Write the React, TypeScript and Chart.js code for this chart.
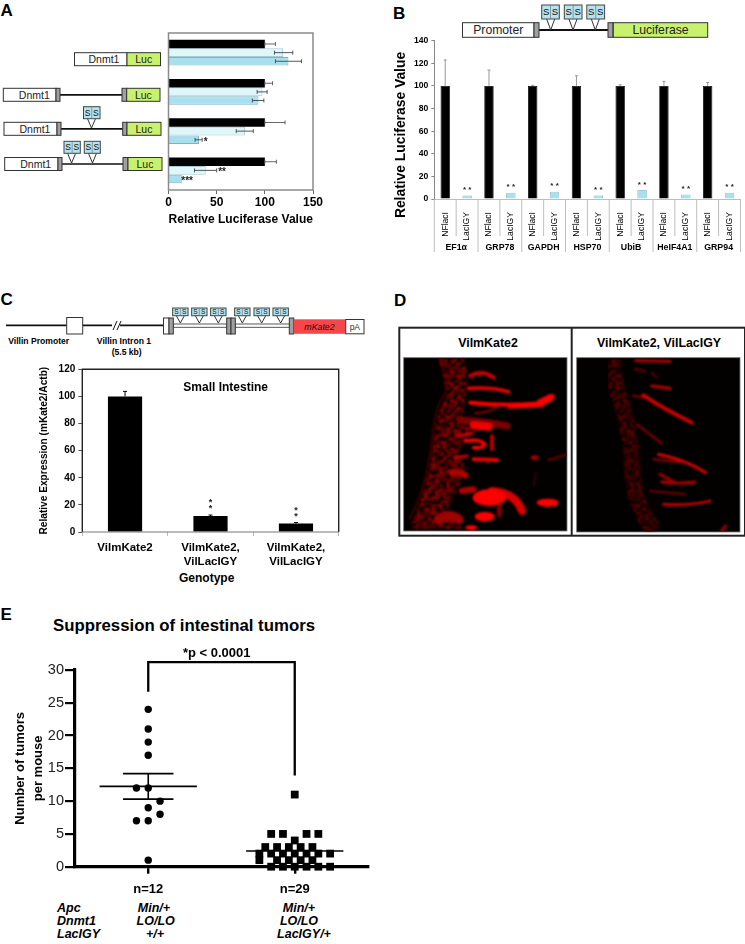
import React, { useEffect, useRef } from "react";
import { Chart, registerables } from "chart.js";
Chart.register(...registerables);

const FONT = "'Liberation Sans', Arial, sans-serif";
const BLACK = "#000000";
const LACI = "#dff6fb";
const LACI_EDGE = "#a9cbd4";
const GY = "#a8e0ef";
const GY_EDGE = "#7fb3c2";
const GREEN = "#c8f26e";

// Panel A
const aConstructs = ["WT", "Intron", "1 site", "2 sites"];
const aNF = [100, 100, 100, 100];
const aNFHigh = [111, 108, 121, 112];
const aLacI = [119, 97.6, 79.3, 38.6];
const aLacILow = [110, 92, 70.3, 27];
const aLacIHigh = [129, 102.4, 88, 50];
const aGY = [124.5, 93.4, 31.7, 13.8];
const aGYLow = [111, 87, 27.6, 13.8];
const aGYHigh = [138, 99, 35, 13.8];
const aXTicks = [0, 50, 100, 150];

// Panel B
const bGroups = ["EF1α", "GRP78", "GAPDH", "HSP70", "UbiB", "HeIF4A1", "GRP94"];
const bSeries = ["NFlacI", "LacIGY"];
const bNF = [100, 100, 100, 100, 100, 100, 100];
const bNFHigh = [123, 114, 100.5, 109, 101, 104, 103];
const bGY = [3, 5.5, 6.5, 3, 8, 4, 5.5];

// Panel C
const cCategories = ["VilmKate2", ["VilmKate2,", "VilLacIGY"], ["VilmKate2,", "VilLacIGY"]];
const cValues = [100, 11.8, 6.3];
const cHigh = [103.7, 12.5, 7];
const cStars = [false, true, true];

// Panel E
const eCircleY = [24, 21, 19, 17, 12, 12, 10, 9, 8, 7, 7, 1];
const eCircleSlot = [0, 0, 0, 0, -1, 0, 1, 0, 1, -1, 0, 0];
const eSquareY = [11, 5, 5, 5, 5, 4, 3, 3, 3, 3, 3, 2, 2, 2, 2, 2, 2, 2, 1, 1, 1, 1, 1, 0, 0, 0, 0, 0, 0];
const eSquareSlot = [0, -2, -1, 1, 2, 0, -2.5, -1.5, -0.5, 0.5, 1.5, -3, -2, -1, 0, 1, 2, 3, -3, -1.5, -0.5, 0.5, 1.5, -2, -1, 0, 1, 2, 3];
const eMean = [12.25, 2.4];
const eSemLow = [10.3, null];
const eSemHigh = [14.2, null];
const eLabels = ["n=12", "n=29"];
const eYTicks = [0, 5, 10, 15, 20, 25, 30];

type Rect = { x: number; y: number; w: number; h: number };
type Plot = { l: number; t: number; r: number; b: number };

const rA: Rect = { x: 130, y: 25, w: 235, h: 202 };
const pA: Plot = { l: 168.5, t: 33, r: 313, b: 190 };
const rB: Rect = { x: 392, y: 30, w: 353, h: 228 };
const pB: Plot = { l: 434.3, t: 40.7, r: 741, b: 199 };
const rC: Rect = { x: 38, y: 360, w: 308, h: 205 };
const pC: Plot = { l: 82.3, t: 369.3, r: 338.7, b: 532 };
const rE: Rect = { x: 12, y: 640, w: 368, h: 258 };
const pE: Plot = { l: 75, t: 670, r: 368, b: 866.7 };

const padOf = (c: Rect, p: Plot) => ({ left: 0, bottom: 0, top: p.t - c.y, right: c.x + c.w - p.r });
const fitW = (c: Rect, p: Plot) => (s: any) => { s.width = p.l - c.x; };
const fitH = (c: Rect, p: Plot) => (s: any) => { s.height = c.y + c.h - p.b; };
const bold = (size: number) => ({ family: FONT, size, weight: "bold" as const });

function star(ctx: CanvasRenderingContext2D, text: string, x: number, y: number, size: number, align: CanvasTextAlign) {
  ctx.font = `bold ${size}px ${FONT}`;
  ctx.fillStyle = "#222";
  ctx.textAlign = align;
  ctx.textBaseline = "middle";
  ctx.fillText(text, x, y + size * 0.22);
}

function vWhisker(ctx: CanvasRenderingContext2D, x: number, y1: number, y2: number, cap: number) {
  ctx.beginPath();
  ctx.moveTo(x, y1);
  ctx.lineTo(x, y2);
  ctx.moveTo(x - cap, y2);
  ctx.lineTo(x + cap, y2);
  ctx.stroke();
}

const panelAPlugin = {
  id: "panelA",
  afterDatasetsDraw(chart: any) {
    const { ctx, chartArea: a, scales } = chart;
    const X = scales.x;
    ctx.save();
    ctx.strokeStyle = "#8a8a8a";
    ctx.lineWidth = 1.5;
    ctx.strokeRect(a.left, a.top, a.right - a.left, a.bottom - a.top);
    const rows = [
      { i: 0, low: aNF, high: aNFHigh, color: "#555" },
      { i: 1, low: aLacILow, high: aLacIHigh, color: "#444" },
      { i: 2, low: aGYLow, high: aGYHigh, color: "#444" },
    ];
    ctx.lineWidth = 0.9;
    rows.forEach((r) => {
      chart.getDatasetMeta(r.i).data.forEach((el: any, k: number) => {
        ctx.strokeStyle = r.color;
        const x1 = X.getPixelForValue(r.low[k]);
        const x2 = X.getPixelForValue(r.high[k]);
        if (x2 - x1 < 1) return;
        ctx.beginPath();
        ctx.moveTo(x1, el.y);
        ctx.lineTo(x2, el.y);
        [x1, x2].forEach((x) => {
          ctx.moveTo(x, el.y - 2);
          ctx.lineTo(x, el.y + 2);
        });
        ctx.stroke();
      });
    });
    const meta1 = chart.getDatasetMeta(1).data;
    const meta2 = chart.getDatasetMeta(2).data;
    star(ctx, "*", X.getPixelForValue(aGYHigh[2]) + 1.5, meta2[2].y, 10, "left");
    star(ctx, "**", X.getPixelForValue(aLacIHigh[3]) + 1.5, meta1[3].y, 10, "left");
    star(ctx, "***", X.getPixelForValue(aGYHigh[3]) - 0.5, meta2[3].y, 10, "left");
    const ly = [88, 103.5, 120];
    chart.data.datasets.forEach((d: any, i: number) => {
      ctx.fillStyle = d.backgroundColor;
      ctx.strokeStyle = d.borderColor;
      ctx.lineWidth = 1;
      ctx.fillRect(315, ly[i] - 3.5, 7, 7);
      ctx.strokeRect(315, ly[i] - 3.5, 7, 7);
      ctx.fillStyle = BLACK;
      ctx.font = `bold 10.6px ${FONT}`;
      ctx.textAlign = "left";
      ctx.textBaseline = "middle";
      ctx.fillText(d.label, 324.5, ly[i] + 0.5);
    });
    ctx.restore();
  },
};

const panelBPlugin = {
  id: "panelB",
  afterDatasetsDraw(chart: any) {
    const { ctx, chartArea: a, scales } = chart;
    const Y = scales.y;
    const step = (a.right - a.left) / (bGroups.length * 2);
    ctx.save();
    ctx.strokeStyle = "#bdbdbd";
    ctx.lineWidth = 1;
    for (let i = 0; i <= bGroups.length * 2; i++) {
      const x = a.left + i * step;
      ctx.beginPath();
      ctx.moveTo(x, a.bottom);
      ctx.lineTo(x, i % 2 === 0 ? a.bottom + 53 : a.bottom + 37);
      ctx.stroke();
    }
    const meta = chart.getDatasetMeta(0).data;
    ctx.strokeStyle = "#8d8d8d";
    ctx.lineWidth = 0.9;
    bGroups.forEach((g, i) => {
      const el = meta[i * 2];
      vWhisker(ctx, el.x, Y.getPixelForValue(100), Y.getPixelForValue(bNFHigh[i]), 1.5);
      const gy = meta[i * 2 + 1];
      star(ctx, "* *", gy.x, Y.getPixelForValue(bGY[i] + 6.5), 8, "center");
      ctx.fillStyle = BLACK;
      ctx.font = `bold 8.8px ${FONT}`;
      ctx.textAlign = "center";
      ctx.textBaseline = "middle";
      ctx.fillText(g, a.left + (i * 2 + 1) * step, a.bottom + 48.7);
    });
    ctx.translate(400.7 - rB.x, 135 - rB.y);
    ctx.rotate(-Math.PI / 2);
    ctx.fillStyle = BLACK;
    ctx.font = `bold 13.85px ${FONT}`;
    ctx.textAlign = "center";
    ctx.textBaseline = "middle";
    ctx.fillText("Relative Luciferase Value", 0, 0);
    ctx.restore();
  },
};

const panelCPlugin = {
  id: "panelC",
  afterDatasetsDraw(chart: any) {
    const { ctx, chartArea: a, scales } = chart;
    const Y = scales.y;
    ctx.save();
    ctx.strokeStyle = "#222";
    ctx.lineWidth = 1.4;
    ctx.beginPath();
    ctx.moveTo(a.left, a.bottom);
    ctx.lineTo(a.left, a.top);
    ctx.lineTo(a.right, a.top);
    ctx.lineTo(a.right, a.bottom);
    ctx.stroke();
    ctx.strokeStyle = "#777";
    ctx.lineWidth = 1;
    ctx.beginPath();
    ctx.moveTo(a.left, a.bottom);
    ctx.lineTo(a.right, a.bottom);
    ctx.stroke();
    ctx.strokeStyle = BLACK;
    chart.getDatasetMeta(0).data.forEach((el: any, i: number) => {
      vWhisker(ctx, el.x, Y.getPixelForValue(cValues[i]), Y.getPixelForValue(cHigh[i]), 2);
      if (cStars[i]) {
        const top = Y.getPixelForValue(cValues[i]);
        star(ctx, "*", el.x, top - 9, 9, "center");
        star(ctx, "*", el.x, top - 15, 9, "center");
      }
    });
    ctx.restore();
  },
};

const panelEPlugin = {
  id: "panelE",
  afterDatasetsDraw(chart: any) {
    const { ctx, scales } = chart;
    const X = scales.x;
    const Y = scales.y;
    ctx.save();
    ctx.strokeStyle = BLACK;
    ctx.lineWidth = 1.6;
    const hline = (cx: number, half: number, v: number) => {
      ctx.beginPath();
      ctx.moveTo(X.getPixelForValue(cx - half), Y.getPixelForValue(v));
      ctx.lineTo(X.getPixelForValue(cx + half), Y.getPixelForValue(v));
      ctx.stroke();
    };
    eMean.forEach((m, i) => {
      hline(i, 0.332, m);
      const lo = eSemLow[i];
      const hi = eSemHigh[i];
      if (lo != null && hi != null) {
        hline(i, 0.172, lo);
        hline(i, 0.172, hi);
        ctx.beginPath();
        ctx.moveTo(X.getPixelForValue(i), Y.getPixelForValue(lo));
        ctx.lineTo(X.getPixelForValue(i), Y.getPixelForValue(hi));
        ctx.stroke();
      }
    });
    ctx.lineWidth = 2.3;
    ctx.beginPath();
    ctx.moveTo(X.getPixelForValue(0), Y.getPixelForValue(26.7));
    ctx.lineTo(X.getPixelForValue(0), Y.getPixelForValue(31.2));
    ctx.lineTo(X.getPixelForValue(1), Y.getPixelForValue(31.2));
    ctx.lineTo(X.getPixelForValue(1), Y.getPixelForValue(13.9));
    ctx.stroke();
    ctx.restore();
  },
};

function T({ x, y, s, a = "center", b = true, i = false, c = "#000", children }: any) {
  const tx = a === "center" ? "-50%" : "0";
  return (
    <div
      style={{
        position: "absolute",
        left: x,
        top: y,
        transform: `translate(${tx},-50%)`,
        font: `${i ? "italic " : ""}${b ? "bold " : ""}${s}px ${FONT}`,
        color: c,
        whiteSpace: "nowrap",
        lineHeight: 1,
      }}
    >
      {children}
    </div>
  );
}

function SS({ x, y, w, h, tx, ty, fs }: any) {
  return (
    <g>
      <polyline points={`${tx - 4},${y + h} ${tx},${ty} ${tx + 4},${y + h}`} fill="#fff" stroke="#333" strokeWidth={1} />
      <rect x={x} y={y} width={w} height={h} fill="#b5e3ef" stroke="#444" strokeWidth={1} />
      <line x1={x + w / 2} x2={x + w / 2} y1={y} y2={y + h} stroke="#777" strokeWidth={0.7} />
      <text x={x + w / 4} y={y + h / 2 + fs * 0.36} fontSize={fs} textAnchor="middle" fontFamily={FONT} fill="#111">S</text>
      <text x={x + (3 * w) / 4} y={y + h / 2 + fs * 0.36} fontSize={fs} textAnchor="middle" fontFamily={FONT} fill="#111">S</text>
    </g>
  );
}

function Box({ x, y, w, h, fill, label, fs = 10, tx, italic, color = "#222" }: any) {
  return (
    <g>
      <rect x={x} y={y} width={w} height={h} fill={fill} stroke="#333" strokeWidth={1} />
      {label ? (
        <text x={tx ?? x + w / 2} y={y + h / 2 + fs * 0.36} fontSize={fs} textAnchor="middle" fontFamily={FONT} fill={color} fontStyle={italic ? "italic" : "normal"}>
          {label}
        </text>
      ) : null}
    </g>
  );
}

function Row({ x, y, h, x2, x3, x4, xEnd }: any) {
  return (
    <g>
      <line x1={x2} x2={x3} y1={y + h / 2} y2={y + h / 2} stroke="#111" strokeWidth={1.7} />
      <Box x={x} y={y} w={x2 - 4 - x} h={h} fill="#fff" label="Dnmt1" fs={10.5} tx={x + 31} />
      <Box x={x2 - 4} y={y} w={4} h={h} fill="#a0a0a0" />
      <Box x={x3} y={y} w={x4 - x3} h={h} fill="#a0a0a0" />
      <Box x={x4} y={y} w={xEnd - x4} h={h} fill={GREEN} label="Luc" fs={10.5} />
    </g>
  );
}

function Micrographs() {
  const lines = (list: [string, number, string][], filter: string) => (
    <g fill="none" strokeLinecap="round" filter={filter}>
      {list.map(([d, w, c], i) => (
        <path key={i} d={d} strokeWidth={w * 1.2} stroke={c} />
      ))}
    </g>
  );
  return (
    <g>
      <defs>
        <filter id="soft" x="-15%" y="-15%" width="130%" height="130%"><feGaussianBlur stdDeviation="3.6" /></filter>
        <filter id="mottle" x="-10%" y="-10%" width="120%" height="120%">
          <feTurbulence type="fractalNoise" baseFrequency="0.09" numOctaves="2" seed="7" result="n" />
          <feColorMatrix in="n" type="matrix" values="0 0 0 0 0  0 0 0 0 0  0 0 0 0 0  4 0 0 0 -1.5" result="m" />
          <feComposite in="SourceGraphic" in2="m" operator="in" />
          <feGaussianBlur stdDeviation="3" />
        </filter>
        <clipPath id="dl"><rect x="5" y="5" width="490" height="520" /></clipPath>
        <clipPath id="dr"><rect x="5" y="5" width="490" height="523" /></clipPath>
      </defs>
      <g transform="translate(402,356) scale(0.33333)">
        <rect x="5" y="5" width="490" height="520" fill="#030000" stroke="#777" strokeWidth="2.5" />
        <g clipPath="url(#dl)">
          <path d="M110,8 L185,8 L200,60 L190,130 L180,190 L300,200 L210,230 L170,280 L190,340 L170,390 L130,470 L190,520 L20,520 L50,450 L85,320 L100,200 L135,110 Z" fill="#8a0000" filter="url(#mottle)" />
          <path d="M115,10 Q140,70 130,110 Q100,150 90,250 Q75,400 20,490" fill="none" stroke="#4a0000" strokeWidth="5" filter="url(#soft)" />
          {lines(
            [
              ["M205,60 Q240,40 275,65", 10, "#c80000"],
              ["M200,97 Q270,92 320,108", 9, "#e80000"],
              ["M205,140 Q300,150 400,143 Q435,140 452,120", 10, "#ff0505"],
              ["M415,140 L445,125", 18, "#ff0505"],
              ["M320,155 L420,150", 6, "#f00000"],
              ["M220,172 Q260,170 290,150", 5, "#900000"],
              ["M175,192 Q240,195 315,210", 18, "#7c0000"],
              ["M215,208 L260,212", 20, "#ef0000"],
              ["M190,255 Q235,248 248,265 Q240,278 215,275", 9, "#ff0505"],
              ["M270,240 L270,280", 9, "#c80000"],
              ["M165,240 L210,232", 8, "#c00000"],
              ["M160,305 L195,300", 8, "#c00000"],
              ["M215,310 L285,312", 10, "#e80000"],
              ["M150,350 Q170,345 190,358", 16, "#b00000"],
              ["M180,405 L215,400", 15, "#b00000"],
              ["M270,405 Q340,410 360,465", 20, "#d80000"],
              ["M440,312 L495,296", 8, "#500000"],
              ["M400,350 L395,390", 4, "#400000"],
              ["M110,490 Q140,470 170,490", 24, "#a00000"],
            ],
            "url(#soft)"
          )}
          <g fill="#ff0505" filter="url(#soft)">
            <ellipse cx="262" cy="425" rx="50" ry="25" />
            <ellipse cx="248" cy="482" rx="30" ry="14" />
            <ellipse cx="292" cy="462" rx="8" ry="24" fill="#7c0000" />
            <ellipse cx="437" cy="440" rx="33" ry="12" />
            <ellipse cx="398" cy="305" rx="12" ry="7" fill="#a00000" />
            <ellipse cx="208" cy="515" rx="18" ry="7" />
          </g>
        </g>
      </g>
      <g transform="translate(575,356) scale(0.33333)">
        <rect x="5" y="5" width="490" height="523" fill="#030000" stroke="#777" strokeWidth="2.5" />
        <g clipPath="url(#dr)">
          <path d="M115,10 Q110,60 135,130 Q160,200 170,290 Q170,370 190,440 Q210,490 240,525" fill="none" stroke="#580000" strokeWidth="48" filter="url(#mottle)" />
          {lines(
            [
              ["M182,14 L285,16", 7, "#b80000"],
              ["M230,90 L285,97", 8, "#b00000"],
              ["M180,40 L210,45", 6, "#600000"],
              ["M230,50 L245,65", 5, "#600000"],
              ["M175,120 L215,125", 8, "#600000"],
              ["M205,118 Q250,150 350,200", 9, "#d40000"],
              ["M185,205 L260,262", 5, "#880000"],
              ["M250,295 Q330,310 392,350", 7, "#e80000"],
              ["M235,310 L330,320", 5, "#980000"],
              ["M255,355 L300,380", 8, "#980000"],
              ["M260,378 Q310,385 360,378", 7, "#a80000"],
              ["M225,405 L330,415", 5, "#780000"],
              ["M265,445 Q340,450 405,435", 7, "#c80000"],
              ["M440,525 L452,510", 8, "#980000"],
            ],
            "url(#soft)"
          )}
        </g>
      </g>
    </g>
  );
}

function Schematics() {
  const cSS = [541, 598, 655, 727, 785, 842];
  return (
    <svg width={745} height={944} style={{ position: "absolute", left: 0, top: 0 }}>
      {/* A */}
      <Box x={74.5} y={52.7} w={52.5} h={13} fill="#fff" label="Dnmt1" fs={10.5} tx={104} />
      <Box x={127} y={52.7} w={33.5} h={13} fill={GREEN} label="Luc" fs={10.5} />
      <Row x={3.3} y={88.3} h={13} x2={60} x3={122} x4={126.7} xEnd={160} />
      <SS x={83.5} y={106.7} w={16.5} h={12} tx={91.5} ty={128} fs={8.5} />
      <Row x={4} y={122.3} h={13} x2={61} x3={122.7} x4={127} xEnd={161} />
      <SS x={64} y={141.3} w={16.3} h={12} tx={71.6} ty={163} fs={8.5} />
      <SS x={84.3} y={141.3} w={16} h={12} tx={92.5} ty={163} fs={8.5} />
      <Row x={4.7} y={157.5} h={13} x2={62} x3={123} x4={128} xEnd={162} />
      {/* B */}
      <line x1={539} x2={608} y1={30} y2={30} stroke="#111" strokeWidth={1.8} />
      <SS x={541.7} y={5} w={17.6} h={14} tx={550.7} ty={30} fs={9.5} />
      <SS x={564.3} y={5} w={17.7} h={14} tx={573} ty={30} fs={9.5} />
      <SS x={586.8} y={5} w={17.8} h={14} tx={595.3} ty={30} fs={9.5} />
      <Box x={462.5} y={22.7} w={71.5} h={14.6} fill="#fff" label="Promoter" fs={12.2} />
      <Box x={534} y={22.7} w={5} h={14.6} fill="#a0a0a0" />
      <Box x={608} y={22.7} w={5} h={14.6} fill="#a0a0a0" />
      <Box x={613.3} y={22.7} w={94.4} h={14.6} fill={GREEN} label="Luciferase" fs={12.2} />
      {/* C */}
      <line x1={6} x2={163} y1={325.3} y2={325.3} stroke="#111" strokeWidth={1.8} />
      <Box x={66.7} y={317.5} w={16} h={16.5} fill="#fff" />
      <rect x={112} y={322} width={8} height={7} fill="#fff" />
      <line x1={113} x2={117} y1={330} y2={321} stroke="#111" strokeWidth={1} />
      <line x1={117} x2={121} y1={330} y2={321} stroke="#111" strokeWidth={1} />
      <rect x={173} y={324} width={54} height={3.3} fill="#fff" stroke="#444" strokeWidth={0.9} />
      <rect x={235} y={324} width={54.5} height={3.3} fill="#fff" stroke="#444" strokeWidth={0.9} />
      {cSS.map((z) => (
        <SS key={z} x={z / 3 - 7.7} y={308} w={15.4} h={7.7} tx={z / 3} ty={323} fs={6.5} />
      ))}
      <Box x={163.5} y={318} w={5.5} h={16} fill="#fff" />
      <Box x={169} y={318} w={4.3} h={16} fill="#a0a0a0" />
      <Box x={226.7} y={318} w={4.3} h={16} fill="#a0a0a0" />
      <Box x={231} y={318} w={4.3} h={16} fill="#a0a0a0" />
      <Box x={289.3} y={318} w={4.4} h={16} fill="#a0a0a0" />
      <rect x={293.7} y={319.3} width={52} height={14.5} fill="#f4474b" />
      <text x={319.5} y={330} fontSize={8.8} fontStyle="italic" textAnchor="middle" fontFamily={FONT} fill="#3a0505">mKate2</text>
      <Box x={345.7} y={319.5} w={18.3} h={14.3} fill="#fff" label="pA" fs={8.5} color="#333" />
      {/* D */}
      <rect x={399.3} y={327.7} width={345.7} height={208} fill="#fff" stroke="#222" strokeWidth={2} />
      <line x1={571.7} x2={571.7} y1={327.7} y2={535.7} stroke="#222" strokeWidth={2} />
      <Micrographs />
    </svg>
  );
}

export default function App() {
  const a = useRef<HTMLCanvasElement>(null);
  const b = useRef<HTMLCanvasElement>(null);
  const c = useRef<HTMLCanvasElement>(null);
  const e = useRef<HTMLCanvasElement>(null);

  useEffect(() => {
    const base: any = {
      responsive: false,
      animation: false,
      plugins: { legend: { display: false }, tooltip: { enabled: false }, title: { display: false } },
    };

    const chartA = new Chart(a.current!, {
      type: "bar",
      data: {
        labels: aConstructs,
        datasets: [
          { label: "NFlacI", data: aNF, backgroundColor: BLACK, borderColor: BLACK, borderWidth: 0 },
          { label: "LacI", data: aLacI, backgroundColor: LACI, borderColor: LACI_EDGE, borderWidth: 1 },
          { label: "LacIGY", data: aGY, backgroundColor: GY, borderColor: GY_EDGE, borderWidth: 1 },
        ],
      },
      options: {
        ...base,
        indexAxis: "y",
        layout: { padding: padOf(rA, pA) },
        datasets: { bar: { categoryPercentage: 0.66, barPercentage: 1 } },
        scales: {
          y: {
            ticks: { display: false },
            grid: { display: false },
            border: { display: false },
            afterFit: fitW(rA, pA),
          },
          x: {
            min: 0,
            max: 150,
            afterBuildTicks: (s: any) => { s.ticks = aXTicks.map((value) => ({ value })); },
            grid: { drawOnChartArea: false, tickLength: 4, color: "#666" },
            border: { display: false },
            ticks: { font: bold(12), color: BLACK, padding: 1, maxRotation: 0 },
            title: { display: true, text: "Relative Luciferase Value", font: bold(12.2), color: BLACK, padding: 0 },
            afterFit: fitH(rA, pA),
          },
        },
      } as any,
      plugins: [panelAPlugin],
    });

    const bLabels = bGroups.flatMap(() => bSeries);
    const bValues = bGroups.flatMap((_, i) => [bNF[i], bGY[i]]);
    const chartB = new Chart(b.current!, {
      type: "bar",
      data: {
        labels: bLabels,
        datasets: [
          {
            data: bValues,
            backgroundColor: bValues.map((_, i) => (i % 2 ? GY : BLACK)),
            borderColor: bValues.map((_, i) => (i % 2 ? GY_EDGE : BLACK)),
            borderWidth: 0.8,
            barPercentage: 0.43,
            categoryPercentage: 1,
          },
        ],
      },
      options: {
        ...base,
        layout: { padding: padOf(rB, pB) },
        scales: {
          x: {
            grid: { display: false },
            border: { color: "#bdbdbd" },
            ticks: { font: { family: FONT, size: 8.6 }, color: BLACK, minRotation: 90, maxRotation: 90, autoSkip: false, padding: 5 },
            afterFit: fitH(rB, pB),
          },
          y: {
            min: 0,
            max: 140,
            ticks: { stepSize: 20, font: bold(8.6), color: BLACK, padding: 3 },
            grid: { drawOnChartArea: false, tickLength: 3, color: "#888" },
            border: { color: "#888" },
            afterFit: fitW(rB, pB),
          },
        },
      } as any,
      plugins: [panelBPlugin],
    });

    const chartC = new Chart(c.current!, {
      type: "bar",
      data: {
        labels: cCategories as any,
        datasets: [{ data: cValues, backgroundColor: BLACK, barPercentage: 0.4, categoryPercentage: 1 }],
      },
      options: {
        ...base,
        layout: { padding: padOf(rC, pC) },
        scales: {
          x: {
            grid: { drawOnChartArea: false, tickLength: 4, color: "#bbb" },
            border: { display: false },
            ticks: { font: { ...bold(11.5), lineHeight: 1.19 }, color: BLACK, maxRotation: 0, padding: 5 },
            afterFit: fitH(rC, pC),
          },
          y: {
            min: 0,
            max: 120,
            ticks: { stepSize: 20, font: bold(10), color: BLACK, padding: 3 },
            grid: { drawOnChartArea: false, tickLength: 4, color: "#555" },
            border: { display: false },
            title: { display: true, text: "Relative Expression (mKate2/Actb)", font: bold(10.15), color: BLACK, padding: 0 },
            afterFit: fitW(rC, pC),
          },
        },
      } as any,
      plugins: [panelCPlugin],
    });

    const slotW = 0.0805;
    const chartE = new Chart(e.current!, {
      type: "scatter",
      data: {
        datasets: [
          {
            data: eCircleY.map((y, i) => ({ x: eCircleSlot[i] * slotW, y })),
            pointStyle: "circle",
            pointRadius: 3.7,
            backgroundColor: BLACK,
            borderWidth: 0,
            clip: false,
          },
          {
            data: eSquareY.map((y, i) => ({ x: 1 + eSquareSlot[i] * slotW, y })),
            pointStyle: "rect",
            pointRadius: 5.5,
            backgroundColor: BLACK,
            borderWidth: 0,
            clip: false,
          },
        ],
      },
      options: {
        ...base,
        layout: { padding: padOf(rE, pE) },
        scales: {
          x: {
            type: "linear",
            min: -0.5,
            max: 1.5,
            afterBuildTicks: (s: any) => { s.ticks = [{ value: 0 }, { value: 1 }]; },
            grid: { drawOnChartArea: false, tickLength: 7, color: BLACK, lineWidth: 2.4 },
            border: { color: BLACK, width: 3.2 },
            ticks: { font: bold(13), color: BLACK, padding: 8, maxRotation: 0, callback: (v: any) => eLabels[v] },
            afterFit: fitH(rE, pE),
          },
          y: {
            min: 0,
            max: 30,
            afterBuildTicks: (s: any) => { s.ticks = eYTicks.map((value) => ({ value })); },
            grid: { drawOnChartArea: false, tickLength: 10, color: BLACK, lineWidth: 2.2 },
            border: { color: BLACK, width: 3.2 },
            ticks: { font: { family: FONT, size: 14.5 }, color: "#222", padding: 1 },
            title: { display: true, text: ["Number of tumors", "per mouse"], font: { ...bold(13), lineHeight: 1.36 }, color: BLACK, padding: 0 },
            afterFit: fitW(rE, pE),
          },
        },
      } as any,
      plugins: [panelEPlugin],
    });

    return () => {
      chartA.destroy();
      chartB.destroy();
      chartC.destroy();
      chartE.destroy();
    };
  }, []);

  const cv = (r: Rect) => ({ position: "absolute" as const, left: r.x, top: r.y, width: r.w, height: r.h });

  return (
    <div style={{ position: "absolute", left: 0, top: 0, width: 745, height: 944, overflow: "hidden", background: "#fff" }}>
      <Schematics />
      <canvas ref={a} width={rA.w} height={rA.h} style={cv(rA)} />
      <canvas ref={b} width={rB.w} height={rB.h} style={cv(rB)} />
      <canvas ref={c} width={rC.w} height={rC.h} style={cv(rC)} />
      <canvas ref={e} width={rE.w} height={rE.h} style={cv(rE)} />

      <T x={0.5} y={10} s={17} a="left">A</T>
      <T x={393} y={12.5} s={17} a="left">B</T>
      <T x={0.5} y={298.5} s={17} a="left">C</T>
      <T x={394} y={299.5} s={17} a="left">D</T>
      <T x={0.5} y={613.5} s={17} a="left">E</T>

      <T x={38.7} y={341} s={8.6}>Villin Promoter</T>
      <T x={124} y={341} s={8.6}>Villin Intron 1</T>
      <T x={126.7} y={352} s={8.6}>(5.5 kb)</T>
      <T x={225.7} y={386.7} s={12}>Small Intestine</T>
      <T x={206.7} y={578} s={12}>Genotype</T>

      <T x={488} y={342.7} s={12.4}>VilmKate2</T>
      <T x={659} y={342.7} s={12.4}>VilmKate2, VilLacIGY</T>

      <T x={184} y={626} s={16.8}>Suppression of intestinal tumors</T>
      <T x={216.7} y={652} s={13}>*p &lt; 0.0001</T>

      <T x={57} y={908} s={12.5} a="left" i>Apc</T>
      <T x={57} y={921} s={12.5} a="left" i>Dnmt1</T>
      <T x={57} y={934} s={12.5} a="left" i>LacIGY</T>
      <T x={154} y={908} s={12.5} i>Min/+</T>
      <T x={155.7} y={921} s={12.5} i>LO/LO</T>
      <T x={155} y={934} s={12.5} i>+/+</T>
      <T x={299} y={908} s={12.5} i>Min/+</T>
      <T x={299} y={921} s={12.5} i>LO/LO</T>
      <T x={304} y={934} s={12.5} i>LacIGY/+</T>
    </div>
  );
}
